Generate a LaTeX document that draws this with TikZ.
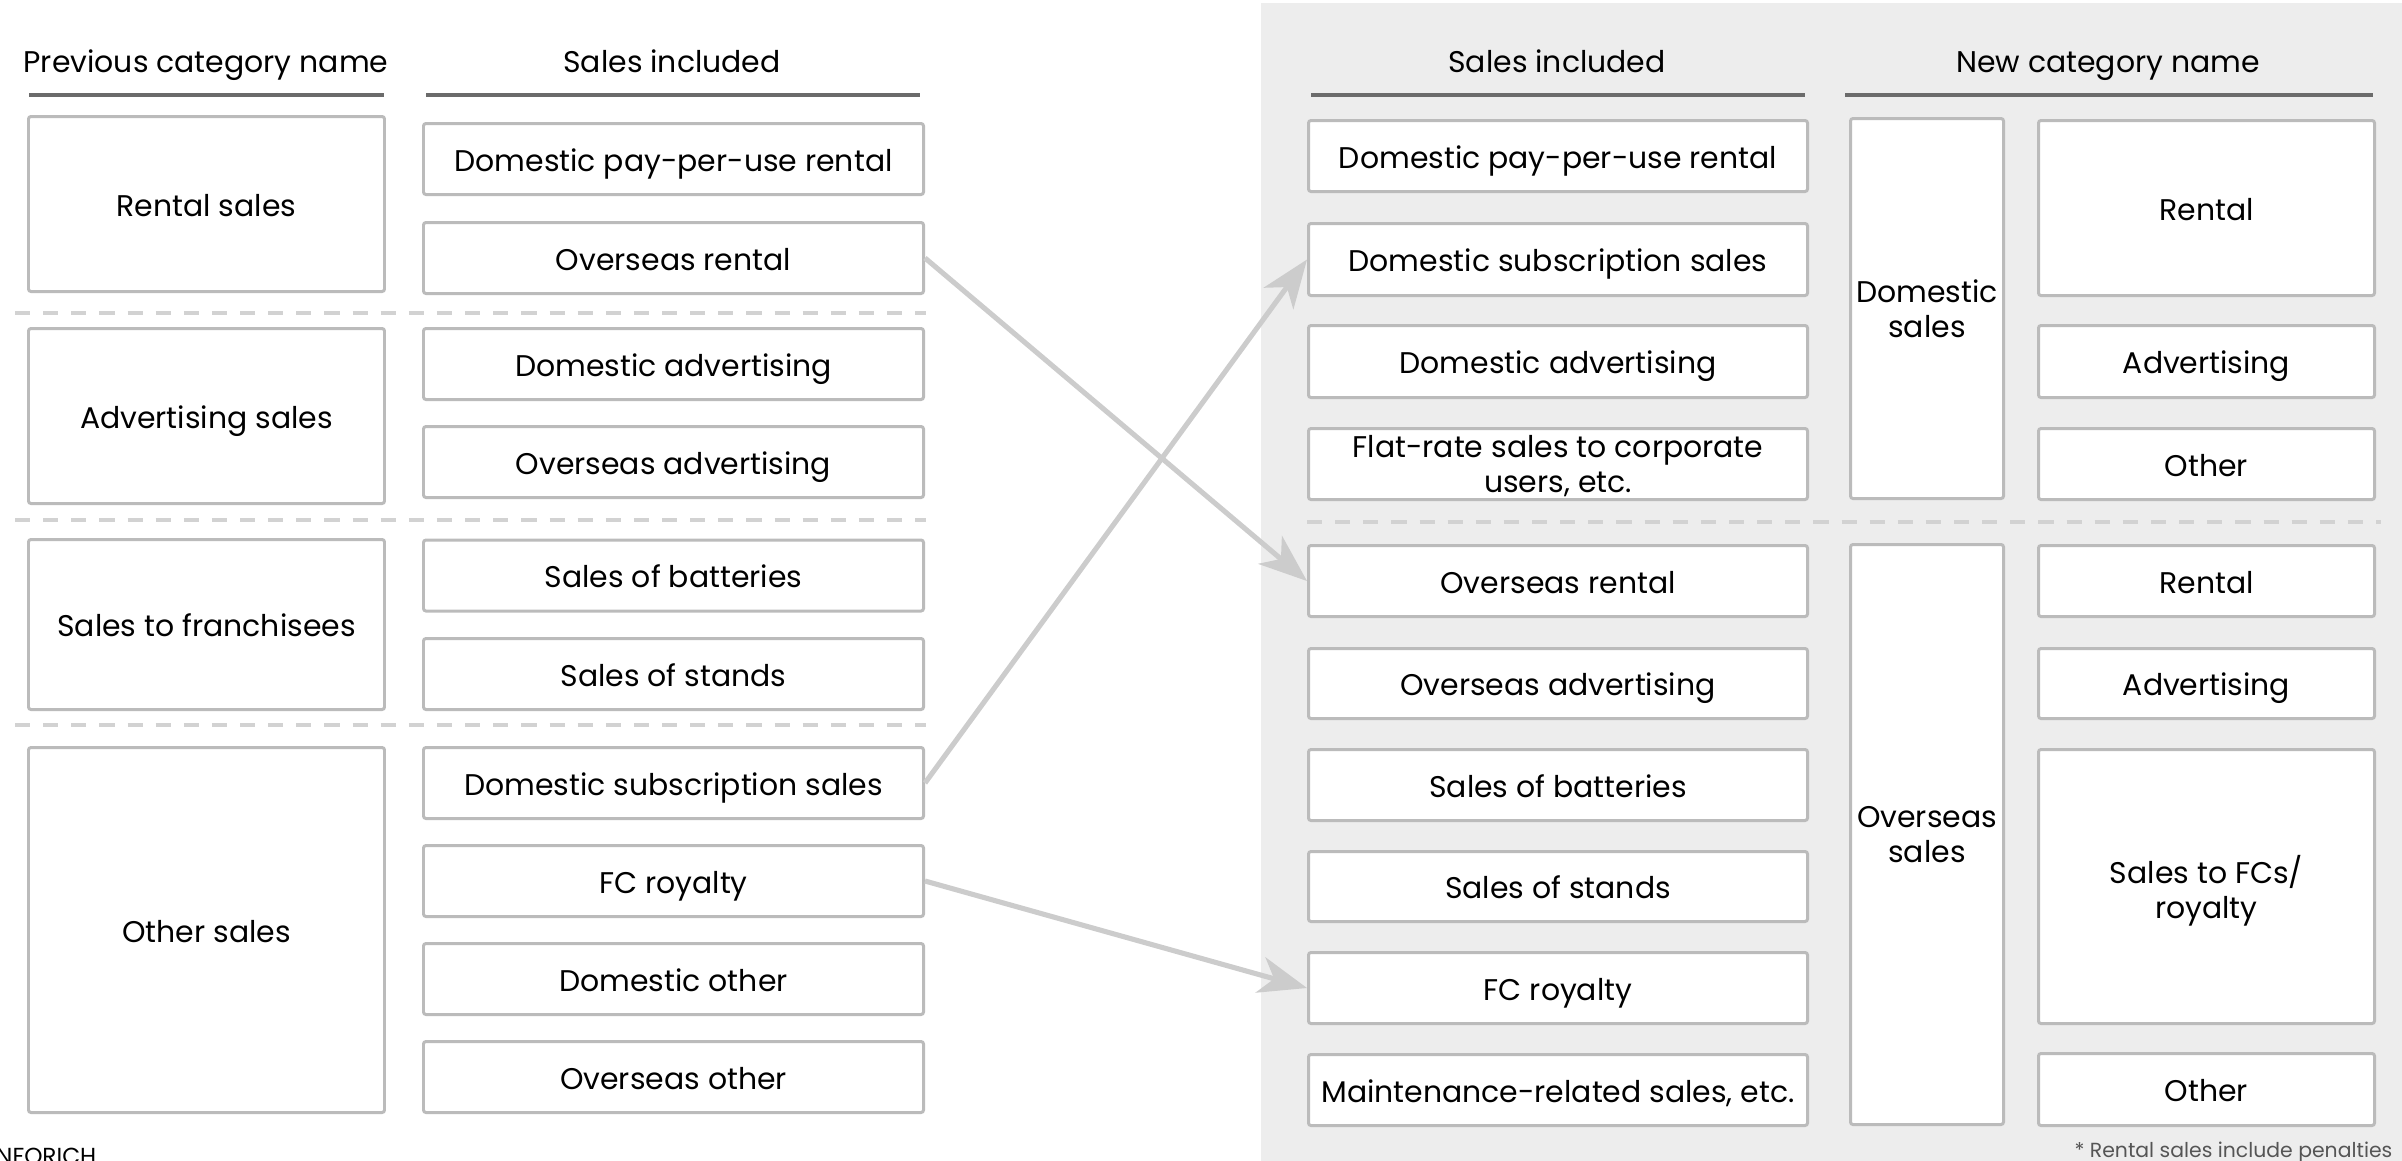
\documentclass[tikz,border=0pt]{standalone}
\usepackage{fontspec}
\setmainfont{Poppins}
\usetikzlibrary{arrows.meta}

\definecolor{panelgray}{HTML}{EDEDED}
\definecolor{boxline}{HTML}{BBBBBB}
\definecolor{rulegray}{HTML}{6B6B6B}
\definecolor{dashgray}{HTML}{D2D2D2}
\definecolor{flowgray}{HTML}{CCCCCC}
\definecolor{notegray}{HTML}{555555}

\newcommand\mainsz{\fontsize{8.5pt}{10pt}\selectfont}
\newcommand\smallsz{\fontsize{5.8pt}{7pt}\selectfont}
\newcommand\marksz{\fontsize{6.6pt}{8pt}\selectfont}

\begin{document}
\begin{tikzpicture}[x=0.01cm, y=-0.01cm,
  frame/.style={draw=boxline, line width=0.85pt, fill=white, rounded corners=0.7pt,
    inner sep=0pt, align=center, font=\mainsz, text=black},
  box/.style={frame, text height=0.7em, text depth=0pt},
  sz/.style 2 args={minimum width=#1*0.01cm, minimum height=#2*0.01cm},
  head/.style={font=\mainsz, inner sep=0pt, anchor=base},
  rulebar/.style={draw=rulegray, line width=1.2pt},
  sep/.style={draw=dashgray, line width=1.2pt, dash pattern=on 4.3pt off 3.7pt},
  flow/.style={draw=flowgray, line width=1.45pt,
    -{Stealth[length=13.7pt, width=10.4pt, inset=4pt]}},
  note/.style={font=\smallsz, text=notegray, inner sep=0pt}]

\useasboundingbox (0,0) rectangle (2402,1160);

% shaded panel for the new categories
\fill[panelgray] (1261,3) rectangle (2420,1180);

% ---------- column headings ----------
\node[head] (hPrev) at (206,72) {Previous category name};
\node[head] (hSalesL) at (672,72) {Sales included};
\node[head] (hSalesR) at (1557,72) {Sales included};
\node[head] (hNew) at (2108,72) {New category name};
\coordinate (uA1) at (29,95);   \coordinate (uA2) at (384,95);
\coordinate (uB1) at (426,95);  \coordinate (uB2) at (920,95);
\coordinate (uC1) at (1311,95); \coordinate (uC2) at (1805,95);
\coordinate (uD1) at (1845,95); \coordinate (uD2) at (2373,95);
\draw[rulebar] (uA1) -- (uA2);
\draw[rulebar] (uB1) -- (uB2);
\draw[rulebar] (uC1) -- (uC2);
\draw[rulebar] (uD1) -- (uD2);

% ---------- group separators ----------
\coordinate (sL1a) at (15,313);  \coordinate (sL1b) at (926,313);
\coordinate (sL2a) at (15,520);  \coordinate (sL2b) at (926,520);
\coordinate (sL3a) at (15,725);  \coordinate (sL3b) at (926,725);
\coordinate (sRa) at (1307,522); \coordinate (sRb) at (2381,522);
\draw[sep] (sL1a) -- (sL1b);
\draw[sep] (sL2a) -- (sL2b);
\draw[sep] (sL3a) -- (sL3b);
\draw[sep] (sRa) -- (sRb);

% ---------- previous categories ----------
\node[box, sz={356}{175}] (pRental) at (206.5,204)   {Rental sales};
\node[box, sz={356}{175}] (pAdv)    at (206.5,416)   {Advertising sales};
\node[box, sz={356}{170}] (pFran)   at (206.5,624.5) {Sales to franchisees};
\node[box, sz={356}{365}] (pOther)  at (206.5,930)   {Other sales};

% ---------- sales included (before) ----------
\node[box, sz={500}{71}] (aDPPU) at (673.5,159)   {Domestic pay-per-use rental};
\node[box, sz={500}{71}] (aOR)   at (673.5,258)   {Overseas rental};
\node[box, sz={500}{71}] (aDA)   at (673.5,364)   {Domestic advertising};
\node[box, sz={500}{71}] (aOA)   at (673.5,462)   {Overseas advertising};
\node[box, sz={500}{71}] (aSB)   at (673.5,575.5) {Sales of batteries};
\node[box, sz={500}{71}] (aSS)   at (673.5,674)   {Sales of stands};
\node[box, sz={500}{71}] (aDSS)  at (673.5,783)   {Domestic subscription sales};
\node[box, sz={500}{71}] (aFC)   at (673.5,881)   {FC royalty};
\node[box, sz={500}{71}] (aDO)   at (673.5,979)   {Domestic other};
\node[box, sz={500}{71}] (aOO)   at (673.5,1077)  {Overseas other};

% ---------- sales included (after) ----------
\node[box, sz={499}{71}] (bDPPU) at (1558,156)    {Domestic pay-per-use rental};
\node[box, sz={499}{72}] (bDSS)  at (1558,259.5)  {Domestic subscription sales};
\node[box, sz={499}{72}] (bDA)   at (1558,361.5)  {Domestic advertising};
\node[frame, sz={499}{71}, text depth=0pt] (bFlat) at (1558,464)
  {Flat-rate sales to corporate\\users, etc.};
\node[box, sz={499}{71}] (bOR)   at (1558,581)    {Overseas rental};
\node[box, sz={499}{70}] (bOA)   at (1558,683.5)  {Overseas advertising};
\node[box, sz={499}{71}] (bSB)   at (1558,785)    {Sales of batteries};
\node[box, sz={499}{70}] (bSS)   at (1558,886.5)  {Sales of stands};
\node[box, sz={499}{71}] (bFC)   at (1558,988)    {FC royalty};
\node[box, sz={499}{71}] (bMRS)  at (1558,1090)   {Maintenance-related sales, etc.};

% ---------- new categories ----------
\node[frame, sz={153}{380}, text depth=0pt] (nDom) at (1927,308.5) {Domestic\\sales};
\node[frame, sz={153}{580}, text depth=0pt] (nOvs) at (1927,834.5) {Overseas\\sales};

\node[box, sz={336}{175}] (nRental1) at (2206.5,208)    {Rental};
\node[box, sz={336}{72}]  (nAdv1)    at (2206.5,361.5)  {Advertising};
\node[box, sz={336}{71}]  (nOther1)  at (2206.5,464)    {Other};
\node[box, sz={336}{71}]  (nRental2) at (2206.5,581)    {Rental};
\node[box, sz={336}{70}]  (nAdv2)    at (2206.5,683.5)  {Advertising};
\node[frame, sz={336}{274}, text depth=0pt] (nFC) at (2206.5,886.5) {Sales to FCs/\\royalty};
\node[box, sz={336}{72}]  (nOther2)  at (2206.5,1089.5) {Other};

% ---------- reclassification arrows ----------
\draw[flow] (aOR.east) -- (bOR.west);
\draw[flow] (aDSS.east) -- (bDSS.west);
\draw[flow] (aFC.east) -- (bFC.west);

% ---------- footnote and mark ----------
\node[note, anchor=base east] (fnote) at (2393,1157) {* Rental sales include penalties};
\node[font=\marksz, inner sep=0pt, anchor=north east] (mark) at (97,1147) {INFORICH};

\end{tikzpicture}
\end{document}
